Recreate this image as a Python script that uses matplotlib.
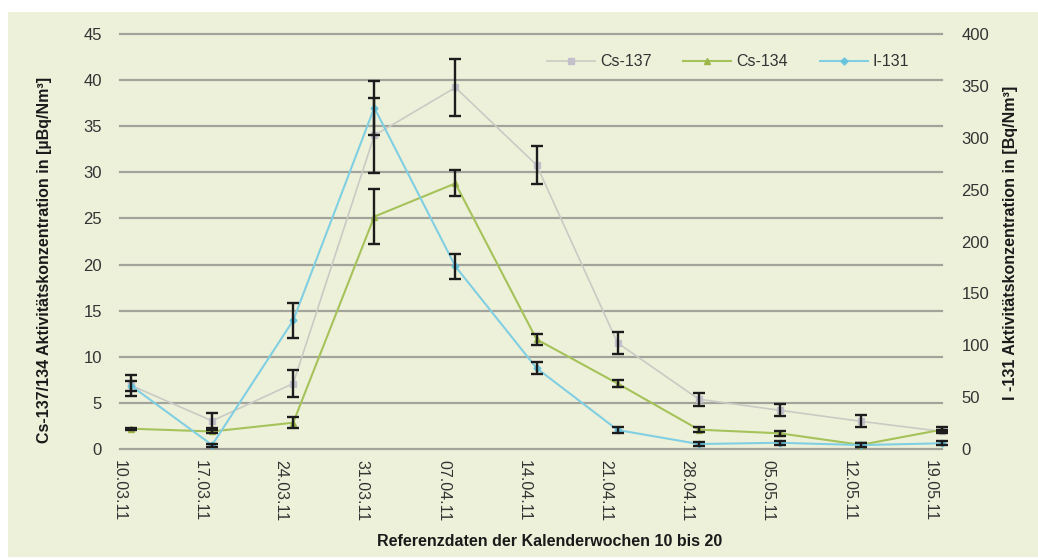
import matplotlib
matplotlib.use("Agg")
import matplotlib.pyplot as plt
import matplotlib.transforms as mtransforms
from matplotlib.patches import Rectangle
import numpy as np

plt.rcParams['font.family'] = ['Liberation Sans', 'DejaVu Sans']

# Weekly reference dates (calendar weeks 10-20, 2011)
dates = ['10.03.11', '17.03.11', '24.03.11', '31.03.11', '07.04.11', '14.04.11',
         '21.04.11', '28.04.11', '05.05.11', '12.05.11', '19.05.11']

# Cs-137 / Cs-134 in µBq/Nm³ (left axis)
cs137 = [6.9, 3.05, 7.1, 34.0, 39.2, 30.8, 11.5, 5.4, 4.2, 3.0, 1.9]
cs137_err = [1.1, 0.8, 1.45, 4.1, 3.1, 2.1, 1.15, 0.7, 0.65, 0.65, 0.2]
cs134 = [2.2, 1.9, 2.85, 25.2, 28.8, 11.9, 7.1, 2.1, 1.7, 0.45, 2.1]
cs134_err = [0.1, 0.2, 0.6, 3.0, 1.4, 0.6, 0.4, 0.25, 0.3, 0.2, 0.3]

# I-131 in Bq/Nm³ (right axis)
i131 = [61, 3.8, 124, 329, 176, 78, 18.3, 4.8, 6.0, 3.8, 5.5]
i131_err = [5, 1.5, 17, 26, 12, 6, 3, 2, 2, 2, 2]

left_ticks = np.arange(0, 46, 5)
right_ticks = np.arange(0, 401, 50)

W, H = 1038, 558
fig = plt.figure(figsize=(W / 100, H / 100), dpi=100, facecolor='white')
fig.patches.append(Rectangle((8 / W, 1.5 / H), 1 - 8 / W, 1 - 13.5 / H,
                             transform=fig.transFigure, facecolor='#eef1da',
                             edgecolor='none', zorder=-10))

ax = fig.add_axes([120 / W, 1 - 449 / H, (942 - 120) / W, (449 - 34) / H])
ax.set_facecolor('none')
ax2 = ax.twinx()
ax2.set_facecolor('none')

x = np.arange(len(dates))
ax.set_xlim(-11 / 81.1, len(dates) - 1)
ax.set_ylim(0, 45)
ax2.set_ylim(0, 400)

# horizontal grid
for yv in left_ticks:
    ax.axhline(yv, color='#a2a39a', lw=1.6, zorder=0, clip_on=False)

gray_line, green_line, blue_line = '#cacac4', '#a6c25a', '#80cfe2'
err_kw = dict(fmt='none', ecolor='#1c1c1c', elinewidth=1.7, capsize=4.5,
              capthick=1.7, zorder=4, clip_on=False)

l1, = ax.plot(x, cs137, color=gray_line, lw=1.2, marker='s', ms=4,
              mfc='#c3c0cc', mec='#c3c0cc', zorder=3, clip_on=False)
l2, = ax.plot(x, cs134, color=green_line, lw=1.5, marker='^', ms=4,
              mfc='#9db64a', mec='#9db64a', zorder=3, clip_on=False)
ax.errorbar(x, cs137, yerr=cs137_err, **err_kw)
ax.errorbar(x, cs134, yerr=cs134_err, **err_kw)

l3, = ax2.plot(x, i131, color=blue_line, lw=1.5, marker='D', ms=3.5,
               mfc='#66c4dd', mec='#66c4dd', zorder=3, clip_on=False)
ax2.errorbar(x, i131, yerr=i131_err, **err_kw)

for a in (ax, ax2):
    for s in a.spines.values():
        s.set_visible(False)

tick_color = '#333333'
ax.set_yticks(left_ticks)
ax.tick_params(axis='y', length=0, pad=13, labelsize=12, labelcolor=tick_color)
ax2.set_yticks(right_ticks)
ax2.tick_params(axis='y', length=0, pad=14, labelsize=12, labelcolor=tick_color)

ax.set_xticks(x)
ax.set_xticklabels(dates, rotation=-90, ha='center', va='top')
ax.tick_params(axis='x', length=0, pad=8, labelsize=11.5, labelcolor=tick_color)
shift = mtransforms.ScaledTranslation(-12 / 100, 0, fig.dpi_scale_trans)
for lab in ax.get_xticklabels():
    lab.set_transform(lab.get_transform() + shift)

lab_kw = dict(fontsize=11.5, fontweight='bold', color='#1a1a1a')
fig.text(45 / W, 1 - 260 / H, 'Cs-137/134 Aktivitätskonzentration in [µBq/Nm³]',
         rotation=90, ha='center', va='center', **lab_kw)
fig.text(1010 / W, 1 - 243 / H, 'I -131 Aktivitätskonzentration in [Bq/Nm³]',
         rotation=90, ha='center', va='center', **lab_kw)
fig.text(550 / W, 1 - 542 / H, 'Referenzdaten der Kalenderwochen 10 bis 20',
         ha='center', va='center', **lab_kw)

leg = fig.legend([l1, l2, l3], ['Cs-137', 'Cs-134', 'I-131'], loc='center',
                 bbox_to_anchor=(728 / W, 1 - 62 / H), ncol=3, frameon=False,
                 fontsize=11.5, handlelength=3.0, handletextpad=0.3,
                 columnspacing=2.0)
for t in leg.get_texts():
    t.set_color('#333333')

fig.savefig('out.png', dpi=100, facecolor=fig.get_facecolor())
